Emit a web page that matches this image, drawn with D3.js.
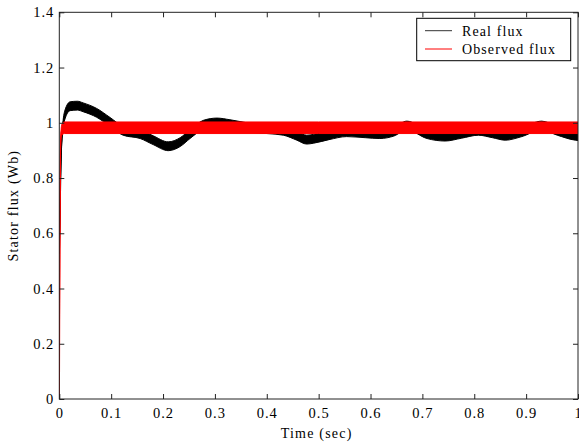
<!DOCTYPE html>
<html>
<head>
<meta charset="utf-8">
<script src="https://cdn.jsdelivr.net/npm/d3@7"></script>
<style>
  body { margin: 0; background: #fff; }
</style>
</head>
<body>
<svg id="SvgContainer"></svg>
<script>
// time axis ticks and value axis ticks
var xTicks = [0, 0.1, 0.2, 0.3, 0.4, 0.5, 0.6, 0.7, 0.8, 0.9, 1];
var yTicks = [0, 0.2, 0.4, 0.6, 0.8, 1, 1.2, 1.4];

// real flux: centre of the band and ripple half width (Wb)
var realTime = [0, 0.003, 0.006, 0.011, 0.021, 0.035, 0.046, 0.072, 0.098, 0.123, 0.156, 0.181, 0.21, 0.233, 0.252, 0.278, 0.304, 0.329, 0.368, 0.432, 0.458, 0.477, 0.49, 0.52, 0.554, 0.59, 0.618, 0.645, 0.67, 0.709, 0.744, 0.775, 0.808, 0.835, 0.86, 0.89, 0.93, 0.96, 0.995, 1.0];
var realFlux = [0.527, 0.85, 0.97, 1.03, 1.06, 1.062, 1.056, 1.036, 1.003, 0.971, 0.959, 0.937, 0.915, 0.93, 0.959, 0.993, 1.001, 0.995, 0.982, 0.971, 0.953, 0.939, 0.942, 0.955, 0.966, 0.962, 0.959, 0.968, 0.99, 0.959, 0.95, 0.96, 0.971, 0.962, 0.953, 0.965, 0.99, 0.971, 0.953, 0.952];
var realRipple = [0.002, 0.004, 0.01, 0.016, 0.016, 0.016, 0.016, 0.016, 0.016, 0.016, 0.016, 0.016, 0.016, 0.016, 0.016, 0.016, 0.016, 0.016, 0.016, 0.016, 0.016, 0.016, 0.016, 0.016, 0.016, 0.016, 0.016, 0.016, 0.016, 0.016, 0.016, 0.016, 0.016, 0.016, 0.016, 0.016, 0.016, 0.016, 0.016, 0.016];

// observed flux
var obsTime = [0, 0.001, 0.003, 0.005, 0.01, 0.5, 1.0];
var obsFlux = [0, 0.6, 0.95, 0.975, 0.982, 0.982, 0.982];
var obsRipple = [0, 0.002, 0.01, 0.02, 0.021, 0.021, 0.021];

var seriesNames = ["Real flux", "Observed flux"];
var seriesColors = ["#000000", "#ff0000"];

var fontName = "'Liberation Serif', 'Times New Roman', serif";

function RunChart() {
    var width = 579;
    var height = 445;
    var left = 59.3, right = 578, top = 12.3, bottom = 399;

    var svg = d3.select("svg")
        .attr("width", width)
        .attr("height", height);

    var x = d3.scaleLinear().domain([0, 1]).range([left, right]);
    var y = d3.scaleLinear().domain([0, 1.4]).range([bottom, top]);

    svg.append("defs").append("clipPath").attr("id", "plotClip")
        .append("rect")
        .attr("x", left).attr("y", top)
        .attr("width", right - left).attr("height", bottom - top);

    var plot = svg.append("g").attr("clip-path", "url(#plotClip)");

    function drawSeries(times, vals, ripple, color) {
        var pts = times.map(function (t, i) { return { t: t, v: vals[i], r: ripple[i] }; });
        var area = d3.area()
            .x(function (d) { return x(d.t); })
            .y0(function (d) { return y(d.v - d.r); })
            .y1(function (d) { return y(d.v + d.r); })
            .curve(d3.curveMonotoneX);
        var line = d3.line()
            .x(function (d) { return x(d.t); })
            .y(function (d) { return y(d.v); })
            .curve(d3.curveMonotoneX);
        plot.append("path").datum(pts)
            .attr("d", area)
            .attr("fill", color)
            .attr("stroke", color)
            .attr("stroke-width", 1);
        plot.append("path").datum(pts)
            .attr("d", line)
            .attr("fill", "none")
            .attr("stroke", color)
            .attr("stroke-width", 1.3);
    }

    drawSeries(realTime, realFlux, realRipple, seriesColors[0]);
    drawSeries(obsTime, obsFlux, obsRipple, seriesColors[1]);

    // axes, MATLAB style box with inward ticks
    var axisColor = "#222";
    var tickLen = 5;

    svg.append("rect")
        .attr("x", left).attr("y", top)
        .attr("width", right - left).attr("height", bottom - top)
        .attr("fill", "none")
        .attr("stroke", axisColor)
        .attr("stroke-width", 1);

    function styleTicks(g) {
        g.attr("font-family", null).attr("font-size", null);
        g.select(".domain").remove();
        g.selectAll("line").attr("stroke", axisColor);
        g.selectAll("text")
            .style("font-family", fontName)
            .style("font-size", "14.5px")
            .style("letter-spacing", "1px")
            .attr("fill", "#000");
    }

    var xAxisBottom = d3.axisBottom(x).tickValues(xTicks).tickSizeInner(-tickLen).tickSizeOuter(0)
        .tickPadding(9).tickFormat(function (d) { return d3.format("")(d); });
    var gx = svg.append("g").attr("transform", "translate(0," + bottom + ")").call(xAxisBottom);
    styleTicks(gx);

    var xAxisTop = d3.axisTop(x).tickValues(xTicks).tickSizeInner(-tickLen).tickSizeOuter(0).tickFormat("");
    var gxt = svg.append("g").attr("transform", "translate(0," + top + ")").call(xAxisTop);
    styleTicks(gxt);

    var yAxisLeft = d3.axisLeft(y).tickValues(yTicks).tickSizeInner(-tickLen).tickSizeOuter(0)
        .tickPadding(5).tickFormat(function (d) { return d3.format("")(d); });
    var gy = svg.append("g").attr("transform", "translate(" + left + ",0)").call(yAxisLeft);
    styleTicks(gy);

    var yAxisRight = d3.axisRight(y).tickValues(yTicks).tickSizeInner(-tickLen).tickSizeOuter(0).tickFormat("");
    var gyr = svg.append("g").attr("transform", "translate(" + right + ",0)").call(yAxisRight);
    styleTicks(gyr);

    // axis labels
    svg.append("text")
        .attr("x", (left + right) / 2 - 2)
        .attr("y", 438)
        .attr("text-anchor", "middle")
        .style("font-family", fontName)
        .style("font-size", "14px")
        .style("letter-spacing", "1.2px")
        .text("Time (sec)");

    svg.append("text")
        .attr("transform", "translate(18," + ((top + bottom) / 2) + ") rotate(-90)")
        .attr("text-anchor", "middle")
        .style("font-family", fontName)
        .style("font-size", "14px")
        .style("letter-spacing", "1.2px")
        .text("Stator flux (Wb)");

    // legend
    var lg = svg.append("g").attr("class", "Legend");
    lg.append("rect")
        .attr("x", 416.7).attr("y", 18.3)
        .attr("width", 154).attr("height", 42.4)
        .attr("fill", "#fff")
        .attr("stroke", "#000")
        .attr("stroke-width", 1);

    seriesNames.forEach(function (name, i) {
        var ly = 30.7 + i * 18.3;
        lg.append("line")
            .attr("x1", 425).attr("x2", 452)
            .attr("y1", ly).attr("y2", ly)
            .attr("stroke", i === 0 ? "#333" : seriesColors[i])
            .attr("stroke-width", 1);
        lg.append("text")
            .attr("x", 462).attr("y", ly + 5)
            .style("font-family", fontName)
            .style("font-size", "14px")
            .style("letter-spacing", "1.1px")
            .text(name);
    });
}

RunChart();
</script>
</body>
</html>
